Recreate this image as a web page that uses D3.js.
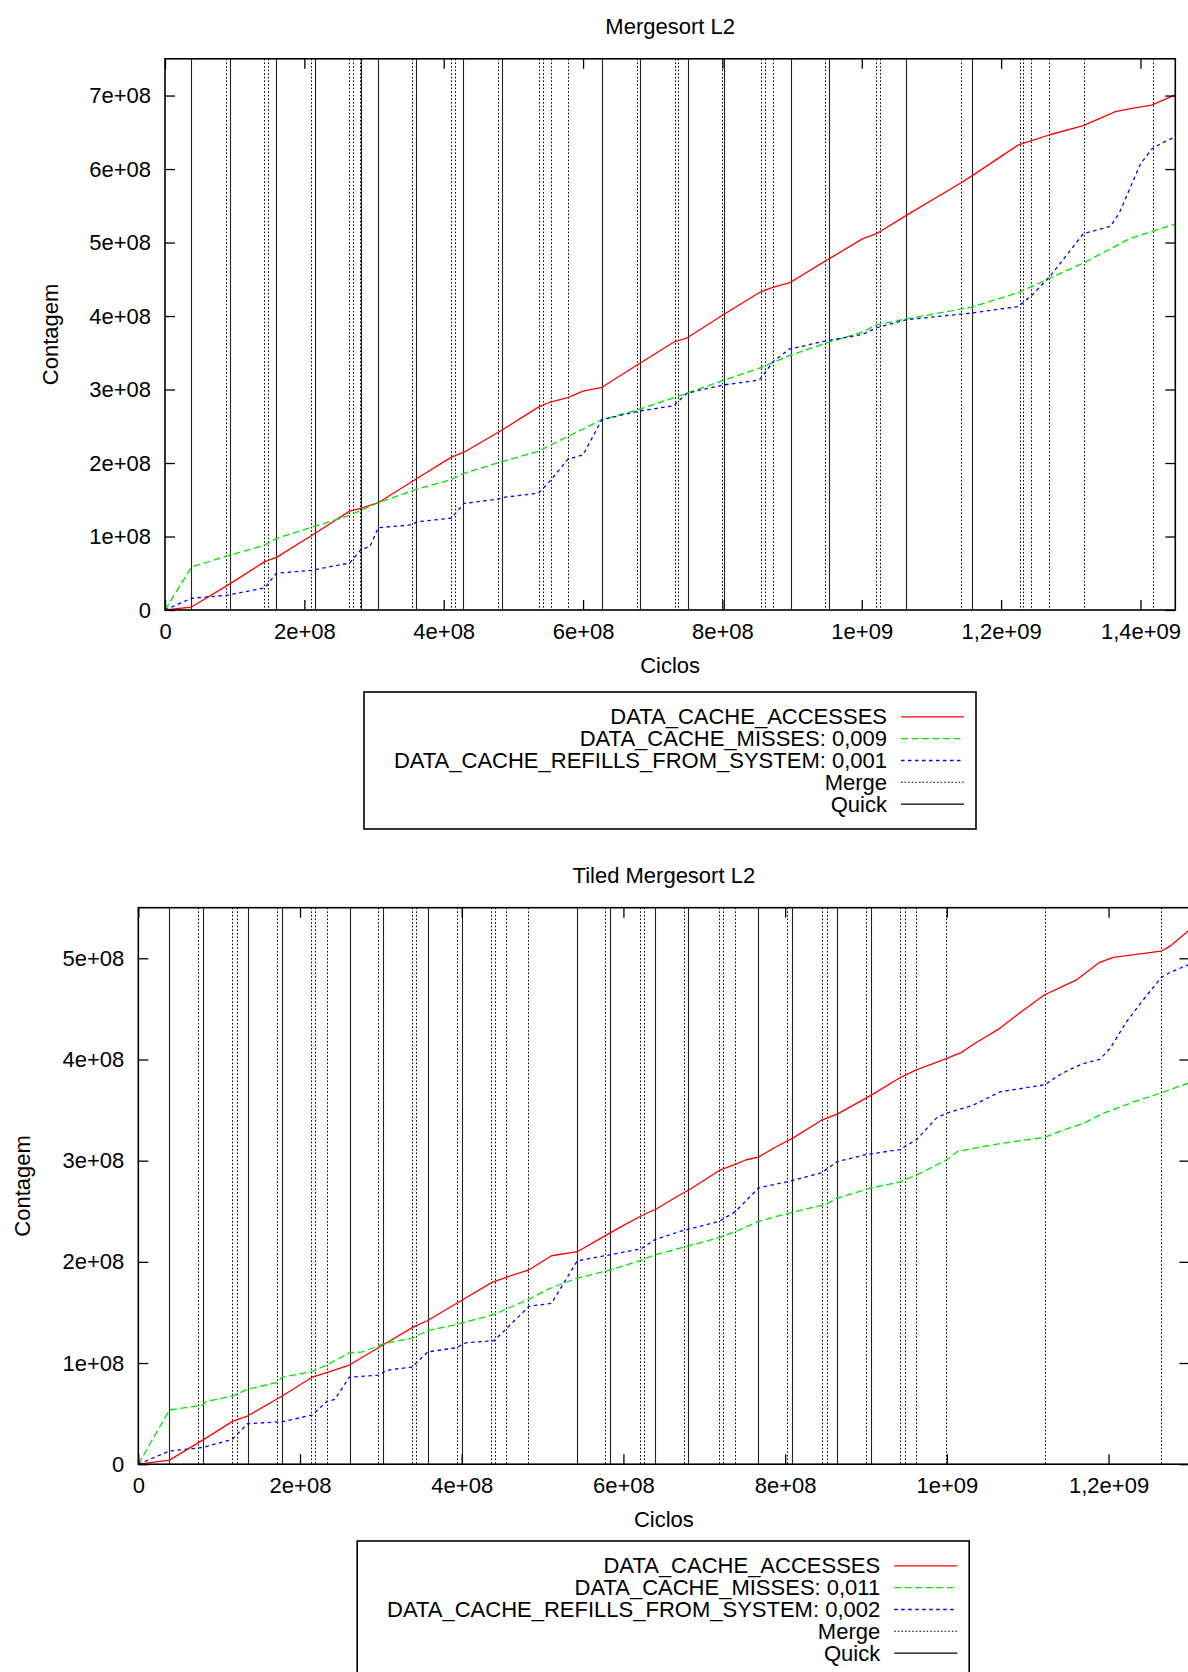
<!DOCTYPE html>
<html>
<head>
<meta charset="utf-8">
<script src="https://cdn.jsdelivr.net/npm/d3@7"></script>
<style>
  html, body { margin: 0; padding: 0; background: #fff; }
  svg { display: block; }
</style>
</head>
<body>
<svg id="chart" width="1188" height="1672"></svg>
<script>
// ---- Mergesort L2: counter samples [cycles, count] ----
const msAccesses = [
  [0,0],[0.38e8,0.04e8],[0.93e8,0.355e8],[1.43e8,0.658e8],[1.60e8,0.716e8],[2.15e8,1.04e8],
  [2.65e8,1.345e8],[2.82e8,1.385e8],[3.06e8,1.46e8],[3.61e8,1.786e8],[4.11e8,2.08e8],[4.29e8,2.147e8],
  [4.84e8,2.45e8],[5.36e8,2.76e8],[5.53e8,2.83e8],[5.78e8,2.89e8],[6.00e8,2.977e8],[6.27e8,3.03e8],
  [6.77e8,3.33e8],[7.31e8,3.65e8],[7.49e8,3.70e8],[8.00e8,4.01e8],[8.53e8,4.32e8],[8.72e8,4.39e8],
  [8.96e8,4.45e8],[9.48e8,4.75e8],[10.01e8,5.05e8],[10.21e8,5.12e8],[10.64e8,5.37e8],[11.42e8,5.81e8],
  [11.57e8,5.90e8],[12.25e8,6.33e8],[12.45e8,6.39e8],[12.71e8,6.47e8],[13.18e8,6.59e8],[13.64e8,6.78e8],
  [13.84e8,6.82e8],[14.16e8,6.87e8],[14.50e8,7.01e8]
];
const msMisses = [
  [0,0],[0.38e8,0.584e8],[0.884e8,0.733e8],[1.41e8,0.876e8],[1.60e8,0.973e8],[2.13e8,1.133e8],
  [2.65e8,1.288e8],[3.06e8,1.46e8],[3.61e8,1.643e8],[4.11e8,1.775e8],[4.29e8,1.86e8],[4.84e8,2.02e8],
  [5.36e8,2.16e8],[5.78e8,2.36e8],[6.27e8,2.59e8],[6.77e8,2.72e8],[7.31e8,2.89e8],[7.49e8,2.95e8],
  [8.00e8,3.12e8],[8.53e8,3.29e8],[8.96e8,3.46e8],[9.48e8,3.63e8],[10.01e8,3.78e8],[10.21e8,3.88e8],
  [10.64e8,3.96e8],[11.57e8,4.12e8],[12.25e8,4.32e8],[12.71e8,4.52e8],[13.18e8,4.72e8],[13.84e8,5.05e8],
  [14.16e8,5.15e8],[14.50e8,5.25e8]
];
const msRefills = [
  [0,0],[0.38e8,0.16e8],[0.884e8,0.20e8],[1.43e8,0.30e8],[1.60e8,0.50e8],[2.10e8,0.54e8],
  [2.65e8,0.64e8],[2.82e8,0.83e8],[2.94e8,0.86e8],[3.06e8,1.12e8],[3.56e8,1.16e8],[3.61e8,1.20e8],
  [4.11e8,1.25e8],[4.29e8,1.45e8],[4.79e8,1.51e8],[4.84e8,1.53e8],[5.36e8,1.59e8],[5.54e8,1.77e8],
  [5.78e8,2.05e8],[6.00e8,2.11e8],[6.27e8,2.59e8],[6.77e8,2.70e8],[7.30e8,2.78e8],[7.49e8,2.95e8],
  [8.00e8,3.06e8],[8.53e8,3.13e8],[8.73e8,3.38e8],[8.96e8,3.55e8],[9.48e8,3.66e8],[10.01e8,3.75e8],
  [10.21e8,3.84e8],[10.64e8,3.95e8],[11.57e8,4.04e8],[12.25e8,4.13e8],[12.45e8,4.29e8],[12.71e8,4.55e8],
  [13.18e8,5.12e8],[13.57e8,5.22e8],[13.70e8,5.41e8],[14.00e8,6.07e8],[14.16e8,6.27e8],[14.30e8,6.35e8],
  [14.50e8,6.44e8]
];
// phase markers (cycle at which each phase starts)
const msMergeMarks = [
  0.869e8,1.4185e8,1.476e8,2.089e8,2.639e8,2.696e8,2.80e8,3.546e8,4.099e8,4.156e8,4.781e8,5.367e8,
  5.424e8,5.535e8,5.783e8,6.768e8,7.325e8,7.362e8,7.987e8,8.56e8,8.617e8,8.727e8,9.479e8,10.205e8,
  10.263e8,11.426e8,12.264e8,12.311e8,12.431e8,12.685e8,13.183e8,14.178e8
];
const msQuickMarks = [
  0.376e8,0.926e8,1.597e8,2.146e8,2.817e8,3.055e8,3.605e8,4.279e8,4.831e8,6.274e8,6.820e8,7.506e8,
  8.019e8,8.981e8,9.526e8,10.636e8,11.58e8
];
const msXTicks = [0,2e8,4e8,6e8,8e8,10e8,12e8,14e8];
const msXTickLabels = ["0","2e+08","4e+08","6e+08","8e+08","1e+09","1,2e+09","1,4e+09"];
const msYTicks = [0,1e8,2e8,3e8,4e8,5e8,6e8,7e8];
const msYTickLabels = ["0","1e+08","2e+08","3e+08","4e+08","5e+08","6e+08","7e+08"];
const msLegend = ["DATA_CACHE_ACCESSES","DATA_CACHE_MISSES: 0,009","DATA_CACHE_REFILLS_FROM_SYSTEM: 0,001","Merge","Quick"];

// ---- Tiled Mergesort L2 ----
const tmAccesses = [
  [0,0],[0.385e8,0.04e8],[0.796e8,0.238e8],[1.17e8,0.426e8],[1.35e8,0.476e8],[1.78e8,0.674e8],
  [2.15e8,0.86e8],[2.33e8,0.906e8],[2.61e8,0.98e8],[3.03e8,1.18e8],[3.41e8,1.36e8],[3.58e8,1.42e8],
  [4.00e8,1.62e8],[4.38e8,1.80e8],[4.56e8,1.85e8],[4.83e8,1.92e8],[5.11e8,2.06e8],[5.43e8,2.10e8],
  [5.69e8,2.22e8],[6.00e8,2.36e8],[6.26e8,2.47e8],[6.40e8,2.52e8],[6.70e8,2.663e8],[6.815e8,2.712e8],
  [7.186e8,2.903e8],[7.39e8,2.966e8],[7.52e8,3.009e8],[7.67e8,3.035e8],[7.895e8,3.14e8],[8.09e8,3.22e8],
  [8.45e8,3.40e8],[8.645e8,3.46e8],[9.06e8,3.645e8],[9.42e8,3.82e8],[9.63e8,3.90e8],[9.83e8,3.96e8],
  [10.00e8,4.01e8],[10.18e8,4.07e8],[10.33e8,4.15e8],[10.66e8,4.31e8],[10.90e8,4.46e8],[11.21e8,4.64e8],
  [11.40e8,4.71e8],[11.61e8,4.79e8],[11.89e8,4.96e8],[12.06e8,5.01e8],[12.65e8,5.07e8],[12.76e8,5.12e8],
  [13.00e8,5.28e8]
];
const tmMisses = [
  [0,0],[0.385e8,0.535e8],[0.796e8,0.585e8],[0.84e8,0.62e8],[1.17e8,0.674e8],[1.35e8,0.74e8],
  [1.71e8,0.807e8],[1.78e8,0.86e8],[2.15e8,0.916e8],[2.33e8,0.98e8],[2.61e8,1.10e8],[2.77e8,1.11e8],
  [3.03e8,1.19e8],[3.385e8,1.246e8],[3.58e8,1.32e8],[3.93e8,1.38e8],[4.40e8,1.48e8],[4.83e8,1.63e8],
  [5.07e8,1.73e8],[5.43e8,1.84e8],[5.84e8,1.92e8],[6.20e8,2.01e8],[6.39e8,2.07e8],[6.70e8,2.135e8],
  [7.186e8,2.24e8],[7.39e8,2.30e8],[7.67e8,2.40e8],[8.09e8,2.49e8],[8.51e8,2.57e8],[8.645e8,2.63e8],
  [9.06e8,2.73e8],[9.42e8,2.79e8],[9.63e8,2.86e8],[10.00e8,3.01e8],[10.13e8,3.09e8],[10.66e8,3.17e8],
  [11.21e8,3.23e8],[11.40e8,3.29e8],[11.69e8,3.37e8],[11.94e8,3.47e8],[12.31e8,3.58e8],[12.65e8,3.67e8],
  [13.00e8,3.77e8]
];
const tmRefills = [
  [0,0],[0.385e8,0.13e8],[0.796e8,0.165e8],[1.16e8,0.245e8],[1.35e8,0.40e8],[1.78e8,0.42e8],
  [2.15e8,0.486e8],[2.33e8,0.62e8],[2.43e8,0.64e8],[2.61e8,0.86e8],[2.97e8,0.88e8],[3.08e8,0.93e8],
  [3.385e8,0.96e8],[3.58e8,1.11e8],[3.93e8,1.15e8],[4.05e8,1.20e8],[4.40e8,1.22e8],[4.56e8,1.345e8],
  [4.83e8,1.56e8],[5.11e8,1.59e8],[5.43e8,2.01e8],[5.77e8,2.06e8],[6.22e8,2.13e8],[6.39e8,2.22e8],
  [6.70e8,2.30e8],[7.186e8,2.40e8],[7.39e8,2.50e8],[7.67e8,2.73e8],[8.02e8,2.79e8],[8.45e8,2.88e8],
  [8.645e8,2.99e8],[9.00e8,3.06e8],[9.42e8,3.11e8],[9.63e8,3.21e8],[9.87e8,3.42e8],[10.00e8,3.47e8],
  [10.33e8,3.55e8],[10.66e8,3.68e8],[11.21e8,3.75e8],[11.40e8,3.85e8],[11.52e8,3.90e8],[11.69e8,3.96e8],
  [11.89e8,4.00e8],[12.02e8,4.11e8],[12.22e8,4.37e8],[12.39e8,4.55e8],[12.65e8,4.81e8],[12.76e8,4.86e8],
  [13.00e8,4.94e8]
];
const tmMergeMarks = [
  0.742e8,1.163e8,1.217e8,1.712e8,2.136e8,2.186e8,2.33e8,2.968e8,3.38e8,3.435e8,3.94e8,4.36e8,4.41e8,
  4.55e8,4.82e8,5.77e8,6.205e8,6.255e8,6.75e8,7.186e8,7.236e8,7.38e8,8.02e8,8.45e8,8.515e8,9.0e8,
  9.425e8,9.48e8,9.62e8,9.99e8,11.21e8,12.65e8
];
const tmQuickMarks = [
  0.385e8,0.804e8,1.36e8,1.78e8,2.62e8,3.03e8,3.58e8,4.0e8,5.42e8,5.83e8,6.39e8,6.80e8,7.67e8,
  8.09e8,8.645e8,9.065e8
];
const tmXTicks = [0,2e8,4e8,6e8,8e8,10e8,12e8];
const tmXTickLabels = ["0","2e+08","4e+08","6e+08","8e+08","1e+09","1,2e+09"];
const tmYTicks = [0,1e8,2e8,3e8,4e8,5e8];
const tmYTickLabels = ["0","1e+08","2e+08","3e+08","4e+08","5e+08"];
const tmLegend = ["DATA_CACHE_ACCESSES","DATA_CACHE_MISSES: 0,011","DATA_CACHE_REFILLS_FROM_SYSTEM: 0,002","Merge","Quick"];

const FONT = "'Liberation Sans', Arial, Helvetica, sans-serif";
const FS = 22;
const HALF_CAP = 7.9; // half of the cap height, used to centre labels vertically

const styles = [
  { color: "#ff0000", dash: null },
  { color: "#00e600", dash: "7,3.5" },
  { color: "#0000ff", dash: "3.5,3.5" },
  { color: "#000000", dash: "1.6,2" },
  { color: "#000000", dash: null }
];

const svg = d3.select("#chart");
svg.append("rect").attr("width", 1188).attr("height", 1672).attr("fill", "#fff");

function drawPanel(p) {
  const x = d3.scaleLinear().domain(p.xDomain).range([p.left, p.right]);
  const y = d3.scaleLinear().domain(p.yDomain).range([p.bottom, p.top]);
  const g = svg.append("g");

  // phase markers
  g.append("g").selectAll("line").data(p.merge).join("line")
    .attr("x1", d => Math.round(x(d)) + 0.5).attr("x2", d => Math.round(x(d)) + 0.5)
    .attr("y1", p.top).attr("y2", p.bottom)
    .attr("stroke", "#000").attr("stroke-width", 1).attr("stroke-dasharray", "1.6,2");
  g.append("g").selectAll("line").data(p.quick).join("line")
    .attr("x1", d => Math.round(x(d)) + 0.5).attr("x2", d => Math.round(x(d)) + 0.5)
    .attr("y1", p.top).attr("y2", p.bottom)
    .attr("stroke", "#222").attr("stroke-width", 1.1);

  // counter curves
  const line = d3.line().x(d => x(d[0])).y(d => y(d[1]));
  [p.accesses, p.misses, p.refills].forEach((s, i) => {
    g.append("path").datum(s).attr("d", line)
      .attr("fill", "none").attr("stroke", styles[i].color).attr("stroke-width", 1.3)
      .attr("stroke-linejoin", "round")
      .attr("stroke-dasharray", styles[i].dash);
  });

  // axes with inward ticks on all four sides
  const ax = (sel) => sel.attr("font-family", FONT).attr("font-size", FS)
    .call(s => s.select(".domain").remove())
    .call(s => s.selectAll(".tick line").attr("stroke", "#000").attr("stroke-width", 1.3))
    .call(s => s.selectAll(".tick text").attr("fill", "#000"));
  g.append("g").attr("transform", `translate(0,${p.bottom})`)
    .call(d3.axisBottom(x).tickValues(p.xTicks).tickFormat((d, i) => p.xLabels[i]).tickSize(-10).tickPadding(13))
    .call(ax);
  g.append("g").attr("transform", `translate(0,${p.top})`)
    .call(d3.axisTop(x).tickValues(p.xTicks).tickFormat("").tickSize(-10))
    .call(ax);
  g.append("g").attr("transform", `translate(${p.left},0)`)
    .call(d3.axisLeft(y).tickValues(p.yTicks).tickFormat((d, i) => p.yLabels[i]).tickSize(-10).tickPadding(14))
    .call(ax);
  g.append("g").attr("transform", `translate(${p.right},0)`)
    .call(d3.axisRight(y).tickValues(p.yTicks).tickFormat("").tickSize(-10))
    .call(ax);

  // frame
  g.append("rect").attr("x", p.left).attr("y", p.top)
    .attr("width", p.right - p.left).attr("height", p.bottom - p.top)
    .attr("fill", "none").attr("stroke", "#000").attr("stroke-width", 1.6);

  // titles
  const cx = (p.left + p.right) / 2, cy = (p.top + p.bottom) / 2;
  g.append("text").attr("x", cx).attr("y", p.titleY + HALF_CAP).attr("text-anchor", "middle")
    .attr("font-family", FONT).attr("font-size", FS).text(p.title);
  g.append("text").attr("x", cx).attr("y", p.xTitleY + HALF_CAP).attr("text-anchor", "middle")
    .attr("font-family", FONT).attr("font-size", FS).text("Ciclos");
  g.append("text").attr("transform", `translate(${p.yTitleX + HALF_CAP},${cy}) rotate(-90)`)
    .attr("text-anchor", "middle").attr("font-family", FONT).attr("font-size", FS).text("Contagem");

  // key box
  const L = p.legend;
  const lg = g.append("g").attr("transform", `translate(${L.x},${L.y})`);
  lg.append("rect").attr("x", 0).attr("y", 0).attr("width", 612).attr("height", 137)
    .attr("fill", "#fff").attr("stroke", "#000").attr("stroke-width", 1.6);
  p.legendLabels.forEach((t, i) => {
    const ry = 24.4 + i * 21.8;
    lg.append("text").attr("x", 523).attr("y", ry + HALF_CAP).attr("text-anchor", "end")
      .attr("font-family", FONT).attr("font-size", FS).text(t);
    lg.append("line").attr("x1", 537).attr("x2", 600).attr("y1", ry + 0.5).attr("y2", ry + 0.5)
      .attr("stroke", styles[i].color).attr("stroke-width", i < 3 ? 1.3 : 1.1)
      .attr("stroke-dasharray", styles[i].dash);
  });
}

drawPanel({
  title: "Mergesort L2",
  xDomain: [0, 14.5e8], yDomain: [0, 7.5e8],
  left: 165, right: 1175.3, top: 58.8, bottom: 610,
  accesses: msAccesses, misses: msMisses, refills: msRefills,
  merge: msMergeMarks, quick: msQuickMarks,
  xTicks: msXTicks, xLabels: msXTickLabels, yTicks: msYTicks, yLabels: msYTickLabels,
  titleY: 25.6, xTitleY: 665.4, yTitleX: 50,
  legend: { x: 364, y: 692 }, legendLabels: msLegend
});

drawPanel({
  title: "Tiled Mergesort L2",
  xDomain: [0, 13e8], yDomain: [0, 5.5e8],
  left: 138.3, right: 1189.4, top: 907.7, bottom: 1464.2,
  accesses: tmAccesses, misses: tmMisses, refills: tmRefills,
  merge: tmMergeMarks, quick: tmQuickMarks,
  xTicks: tmXTicks, xLabels: tmXTickLabels, yTicks: tmYTicks, yLabels: tmYTickLabels,
  titleY: 875.5, xTitleY: 1518.6, yTitleX: 22.4,
  legend: { x: 357.2, y: 1541 }, legendLabels: tmLegend
});
</script>
</body>
</html>
